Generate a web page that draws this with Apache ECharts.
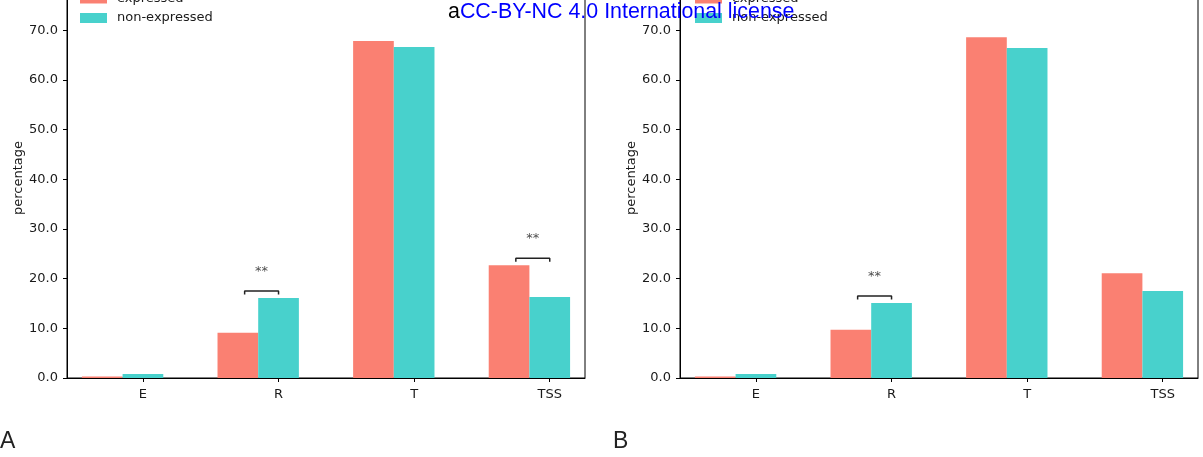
<!DOCTYPE html>
<html>
<head>
<meta charset="utf-8">
<script src="https://cdn.jsdelivr.net/npm/echarts@6/dist/echarts.min.js"></script>
<style>
  html, body { margin: 0; padding: 0; background: #fff; }
  #chart { width: 1203px; height: 457px; }
</style>
</head>
<body>
<div id="chart"></div>
<script>
// Genomic region categories and the share (%) of expressed / non-expressed genes in each
const categories = ['E', 'R', 'T', 'TSS'];

const expressedA    = [0.3, 9.1, 67.8, 22.7];
const nonExpressedA = [0.8, 16.1, 66.6, 16.3];
const significanceA = ['', '**', '', '**'];

const expressedB    = [0.3, 9.7, 68.6, 21.1];
const nonExpressedB = [0.8, 15.1, 66.4, 17.5];
const significanceB = ['', '**', '', ''];

const seriesNames = ['expressed', 'non-expressed'];
const SALMON = '#FA8072';
const TURQUOISE = '#48D1CC';
const FONT = 'DejaVu Sans';
const INK = '#1a1a1a';

// Plot geometry shared by both panels
const PLOT_W = 518, TOP = -22, BOTTOM = 79;
const Y_MAX = 80.5;
const T_MIN = -0.56, T_MAX = 3.26;   // tick frame: tick sits at the centre of the second bar
const BAR_W = 0.3;                    // bar width in category units
const SHIFT = BAR_W / 2;              // bar pairs are centred half a bar left of the tick

const panels = [
  { left: 67,  exp: expressedA, non: nonExpressedA, sig: significanceA, legendLeft: 80,  tag: 'A', tagX: 0 },
  { left: 680, exp: expressedB, non: nonExpressedB, sig: significanceB, legendLeft: 695, tag: 'B', tagX: 613 }
];

const grid = [], xAxis = [], yAxis = [], series = [], legend = [], graphic = [];

panels.forEach((p, gi) => {
  grid.push({
    left: p.left, width: PLOT_W, top: TOP, bottom: BOTTOM,
    show: true, borderColor: '#000', borderWidth: 1, backgroundColor: 'transparent',
    containLabel: false, outerBoundsMode: 'none'
  });

  // visible axis carrying the tick marks and category names
  xAxis.push({
    type: 'value', gridIndex: gi, min: T_MIN, max: T_MAX, position: 'bottom',
    splitLine: { show: false },
    axisLine: { show: true, onZero: false, lineStyle: { color: '#000', width: 1 } },
    axisTick: { show: true, length: 4, customValues: categories.map((c, i) => i), lineStyle: { color: '#000' } },
    axisLabel: {
      customValues: categories.map((c, i) => i),
      formatter: v => categories[Math.round(v)],
      margin: 10, fontFamily: FONT, fontSize: 13, color: INK
    }
  });
  // hidden axis on which the bar pairs are centred
  xAxis.push({
    type: 'value', gridIndex: gi, min: T_MIN + SHIFT, max: T_MAX + SHIFT, show: false
  });

  yAxis.push({
    type: 'value', gridIndex: gi, min: 0, max: Y_MAX, interval: 10,
    name: 'percentage', nameLocation: 'middle', nameGap: 42,
    nameTextStyle: { fontFamily: FONT, fontSize: 13, color: INK },
    splitLine: { show: false },
    axisLine: { show: true, onZero: false, lineStyle: { color: '#000', width: 1 } },
    axisTick: { show: true, length: 4, lineStyle: { color: '#000' } },
    axisLabel: {
      formatter: v => (v % 10 === 0 ? v.toFixed(1) : ''),
      margin: 9, fontFamily: FONT, fontSize: 13, color: INK
    }
  });

  [p.exp, p.non].forEach((vals, si) => {
    series.push({
      type: 'bar', name: seriesNames[si],
      xAxisIndex: 2 * gi + 1, yAxisIndex: gi,
      data: vals.map((v, i) => [i, v]),
      barWidth: (BAR_W * 100) + '%', barGap: '0%',
      itemStyle: { color: si === 0 ? SALMON : TURQUOISE },
      animation: false
    });
  });

  // significance brackets and stars
  p.sig.forEach((s, i) => {
    if (!s) return;
    const top = Math.max(p.exp[i], p.non[i]) + 1.4;
    const leg = top - 0.7;
    const x0 = i - 0.25, x1 = i;
    series.push({
      type: 'line', xAxisIndex: 2 * gi, yAxisIndex: gi,
      data: [[x0, leg], [x0, top], [x1, top], [x1, leg]],
      symbol: 'none', silent: true, animation: false,
      lineStyle: { color: '#222', width: 1.5 }
    });
    series.push({
      type: 'scatter', xAxisIndex: 2 * gi, yAxisIndex: gi,
      data: [[(x0 + x1) / 2, top + 4]],
      symbolSize: 0, silent: true, animation: false,
      label: { show: true, position: 'inside', formatter: s, fontFamily: FONT, fontSize: 13, color: INK }
    });
  });

  legend.push({
    data: seriesNames, orient: 'vertical', left: p.legendLeft, top: -8, padding: 0,
    itemGap: 6.5, itemWidth: 27, itemHeight: 10, icon: 'rect',
    textStyle: { fontFamily: FONT, fontSize: 13, color: INK, lineHeight: 13, padding: [0, 0, 0, 5] }
  });

  graphic.push({
    type: 'text', left: p.tagX, top: 430,
    style: { text: p.tag, fontFamily: 'Liberation Sans Narrow, Liberation Sans', fontSize: 23, fill: '#222' }
  });
});

graphic.push({
  type: 'text', left: 448, top: 1.5, z: 100,
  style: {
    text: '{a|a}{b|CC-BY-NC 4.0 International license}',
    fontFamily: 'Liberation Sans', fontSize: 21.4,
    rich: {
      a: { fill: '#000', fontFamily: 'Liberation Sans', fontSize: 21.4 },
      b: { fill: '#0000ff', fontFamily: 'Liberation Sans', fontSize: 21.4 }
    }
  }
});

const chart = echarts.init(document.getElementById('chart'), null, { renderer: 'canvas' });
chart.setOption({
  backgroundColor: '#fff',
  animation: false,
  grid, xAxis, yAxis, series, legend, graphic
});
</script>
</body>
</html>
